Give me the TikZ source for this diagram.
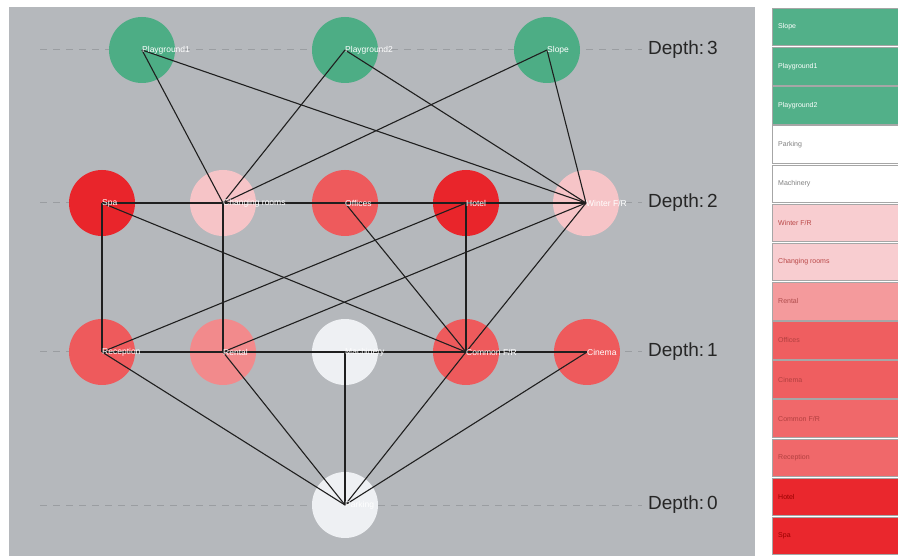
\documentclass[tikz,border=0pt]{standalone}
\usepackage{fontspec}
\setmainfont{Liberation Sans}
\definecolor{bgray}{HTML}{B5B8BC}
\definecolor{cgreen}{HTML}{4DAD85}
\definecolor{cwhite}{HTML}{EEF0F3}
\definecolor{cpale}{HTML}{F6C4C7}
\definecolor{crent}{HTML}{F28A8C}
\definecolor{cmid}{HTML}{EE5A5C}
\definecolor{cred}{HTML}{E9252B}
\definecolor{lgreen}{HTML}{52B089}
\definecolor{lpale}{HTML}{F8CDD0}
\definecolor{lrent}{HTML}{F49A9C}
\definecolor{lmid}{HTML}{EF5E60}
\definecolor{lmid2}{HTML}{F0686A}
\definecolor{lred}{HTML}{EA272D}
\definecolor{dashc}{HTML}{9A9DA1}
\begin{document}
\begin{tikzpicture}[x=1pt,y=-1pt,
  bub/.style={circle,minimum size=66pt,inner sep=0pt,draw=none,fill=#1},
  lbl/.style={anchor=west,inner sep=0pt,text=white,font=\fontsize{8.5}{9}\selectfont},
  edge/.style={draw=black!88,line width=1.1pt},
  lvl/.style={draw=dashc,line width=1pt,dash pattern=on 7pt off 6pt},
  dlab/.style={anchor=west,inner sep=0pt,text=black!85,font=\fontsize{19}{20}\selectfont},
  legbox/.style={draw=gray!70,line width=0.8pt,fill=#1,minimum width=126pt,minimum height=37.5pt,inner sep=0pt,anchor=north west},
  legtxt/.style={anchor=west,inner sep=0pt,font=\fontsize{7}{8}\selectfont}
]
\useasboundingbox (0,0) rectangle (898,556);
\fill[white] (0,0) rectangle (898,556);
\fill[bgray] (9,7) rectangle (755,556);

% depth labels and dashed level lines
\node[dlab] (dl3) at (648,50) {Depth:\kern3pt3};
\node[dlab] (dl2) at (648,203) {Depth:\kern3pt2};
\node[dlab] (dl1) at (648,352) {Depth:\kern3pt1};
\node[dlab] (dl0) at (648,505) {Depth:\kern3pt0};
\coordinate (ds3) at (40,50);
\coordinate (ds2) at (40,203);
\coordinate (ds1) at (40,352);
\coordinate (ds0) at (40,505);
\draw[lvl] (ds3) -- ([xshift=-6pt]dl3.west);
\draw[lvl] (ds2) -- ([xshift=-6pt]dl2.west);
\draw[lvl] (ds1) -- ([xshift=-6pt]dl1.west);
\draw[lvl] (ds0) -- ([xshift=-6pt]dl0.west);

% circles
\node[bub=cgreen] (pg1) at (142,50) {};
\node[bub=cgreen] (pg2) at (345,50) {};
\node[bub=cgreen] (slope) at (547,50) {};
\node[bub=cred] (spa) at (102,203) {};
\node[bub=cpale] (chg) at (223,203) {};
\node[bub=cmid] (off) at (345,203) {};
\node[bub=cred] (hotel) at (466,203) {};
\node[bub=cpale] (wfr) at (586,203) {};
\node[bub=cmid] (rec) at (102,352) {};
\node[bub=crent] (rent) at (223,352) {};
\node[bub=cwhite] (mach) at (345,352) {};
\node[bub=cmid] (cfr) at (466,352) {};
\node[bub=cmid] (cin) at (587,352) {};
\node[bub=cwhite] (park) at (345,505) {};

% edges
\draw[edge] (pg1.center) -- (chg.center);
\draw[edge] (pg1.center) -- (wfr.center);
\draw[edge] (pg2.center) -- (chg.center);
\draw[edge] (pg2.center) -- (wfr.center);
\draw[edge] (slope.center) -- (chg.center);
\draw[edge] (slope.center) -- (wfr.center);
\draw[edge] (spa.center) -- (wfr.center);
\draw[edge] (spa.center) -- (rec.center);
\draw[edge] (spa.center) -- (cfr.center);
\draw[edge] (chg.center) -- (rent.center);
\draw[edge] (off.center) -- (cfr.center);
\draw[edge] (hotel.center) -- (cfr.center);
\draw[edge] (hotel.center) -- (rec.center);
\draw[edge] (wfr.center) -- (rent.center);
\draw[edge] (wfr.center) -- (cfr.center);
\draw[edge] (rec.center) -- (cin.center);
\draw[edge] (rec.center) -- (park.center);
\draw[edge] (rent.center) -- (park.center);
\draw[edge] (mach.center) -- (park.center);
\draw[edge] (cfr.center) -- (park.center);
\draw[edge] (cin.center) -- (park.center);

% labels
\node[lbl] at (pg1.center) {Playground1};
\node[lbl] at (pg2.center) {Playground2};
\node[lbl] at (slope.center) {Slope};
\node[lbl] at (spa.center) {Spa};
\node[lbl] at (chg.center) {Changing rooms};
\node[lbl] at (off.center) {Offices};
\node[lbl] at (hotel.center) {Hotel};
\node[lbl] at (wfr.center) {Winter F/R};
\node[lbl] at (rec.center) {Reception};
\node[lbl] at (rent.center) {Rental};
\node[lbl] at (mach.center) {Machinery};
\node[lbl] at (cfr.center) {Common F/R};
\node[lbl] at (cin.center) {Cinema};
\node[lbl] at (park.center) {Parking};

% legend
\foreach \i/\c/\t/\tc in {
  0/lgreen/Slope/white,
  1/lgreen/Playground1/white,
  2/lgreen/Playground2/white,
  3/white/Parking/gray,
  4/white/Machinery/gray,
  5/lpale/Winter F\slash R/red!45!gray,
  6/lpale/Changing rooms/red!45!gray,
  7/lrent/Rental/red!55!black!70,
  8/lmid/Offices/red!60!black!75,
  9/lmid/Cinema/red!60!black!75,
  10/lmid2/Common F\slash R/red!60!black!75,
  11/lmid2/Reception/red!60!black!75,
  12/lred/Hotel/red!60!black,
  13/lred/Spa/red!60!black} {
  \node[legbox=\c] (lg\i) at (772,{8+39.15*\i}) {};
  \node[legtxt,text=\tc] at ([xshift=6pt]lg\i.west) {\t};
}
\end{tikzpicture}
\end{document}
